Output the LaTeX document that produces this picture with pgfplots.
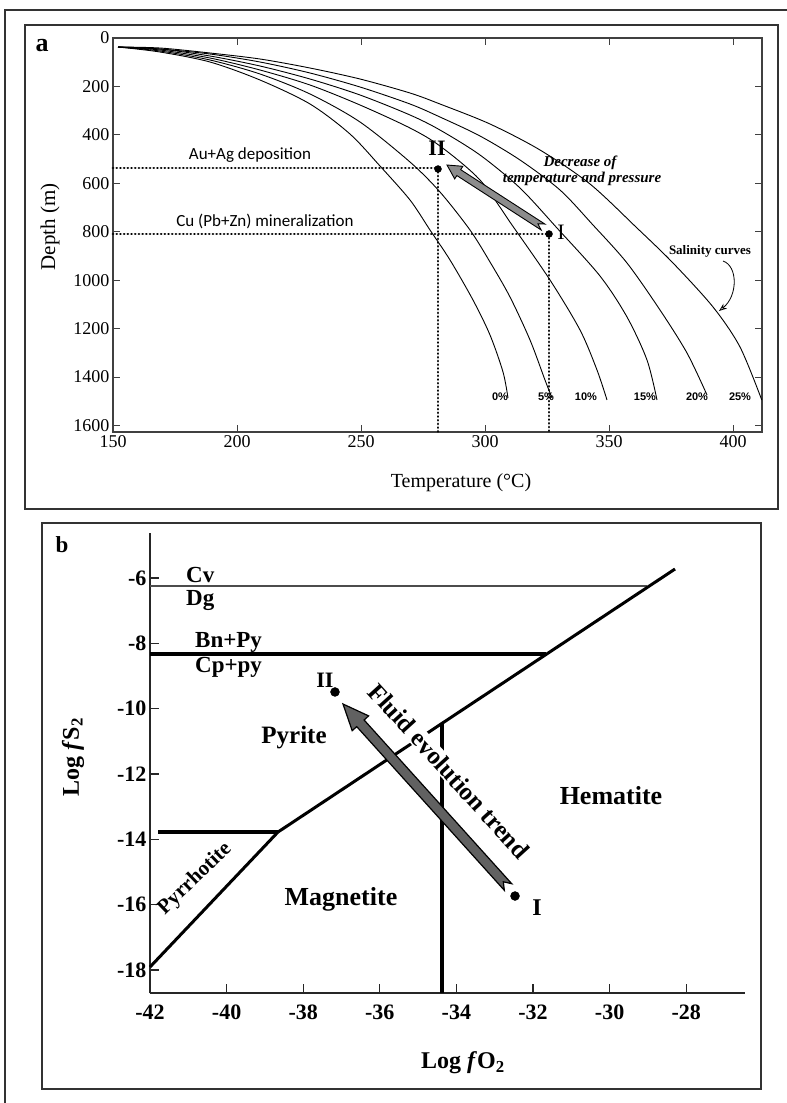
\documentclass[border=0pt]{standalone}
\usepackage{fontspec}
\setmainfont{Liberation Serif}
\newfontfamily\calibri{Carlito}
\newfontfamily\arialf{Liberation Sans}
\usepackage{pgfplots}
\pgfplotsset{compat=1.18}
\usetikzlibrary{arrows.meta}
\newcommand{\fs}[1]{\fontsize{#1}{#1}\selectfont}
\begin{document}
\begin{tikzpicture}
\useasboundingbox (0pt,0pt) rectangle (787pt,-1103pt);
\fill[white] (0pt,0pt) rectangle (787pt,-1103pt);
\draw[line width=2pt, black!80] (5pt,-1103pt) -- (5pt,-10pt) -- (787pt,-10pt);
\draw[line width=1.3pt, black!80] (25pt,-25pt) rectangle (778pt,-509pt);
\draw[line width=1.3pt, black!80] (42pt,-523pt) rectangle (761pt,-1089pt);

% ---------------- Panel a ----------------
\begin{axis}[at={(113pt,-432pt)}, anchor=south west, scale only axis,
  width=649pt, height=394pt,
  xmin=150, xmax=411.69, ymin=0, ymax=1626.8, y dir=reverse,
  xtick={150,200,250,300,350,400}, ytick={0,200,...,1600},
  tick align=inside, major tick length=7pt,
  axis line style={line width=1.3pt, black!75},
  tick style={line width=1pt, black!75},
  ticklabel style={font=\fs{18}},
  /pgf/number format/assume math mode=true,
  /pgf/number format/set thousands separator={},
  clip=false]
% salinity curves
\addplot[black, line width=0.9pt, smooth, tension=0.5] coordinates {
(152.02,37.2) (168.95,57.8) (189.11,99.1) (209.27,173.4) (229.44,272.5) (245.56,396.4)
(257.66,528.5) (269.76,668.9) (277.82,792.7) (285.89,916.6) (295.16,1081.8) (302.02,1226.3)
(307.26,1379.0) (309.27,1486.4)};
\addplot[black, line width=0.9pt, smooth, tension=0.5] coordinates {
(152.02,37.2) (168.95,53.7) (189.11,90.8) (209.27,148.6) (229.44,231.2) (249.60,346.8)
(269.76,512.0) (281.85,635.8) (293.95,792.7) (302.02,924.9) (310.08,1069.4) (318.15,1246.9)
(324.19,1412.1) (327.02,1486.4)};
\addplot[black, line width=0.9pt, smooth, tension=0.5] coordinates {
(152.02,37.2) (168.95,49.5) (189.11,82.6) (209.27,132.1) (229.44,194.1) (249.60,276.6)
(269.76,371.6) (281.85,445.9) (297.98,586.3) (310.89,772.1) (326.21,999.2) (338.31,1205.6)
(345.16,1370.8) (349.19,1494.6)};
\addplot[black, line width=0.9pt, smooth, tension=0.5] coordinates {
(152.02,37.2) (168.95,45.4) (189.11,74.3) (209.27,115.6) (229.44,169.3) (249.60,235.3)
(269.76,317.9) (281.85,379.9) (297.98,483.1) (314.11,619.3) (329.03,784.5) (346.37,982.7)
(357.26,1151.9) (365.32,1329.5) (369.35,1494.6)};
\addplot[black, line width=0.9pt, smooth, tension=0.5] coordinates {
(152.02,37.2) (168.95,45.4) (189.11,66.1) (209.27,99.1) (229.44,144.5) (249.60,202.3)
(269.76,272.5) (281.85,326.2) (297.98,404.6) (314.11,503.7) (330.24,627.6) (343.55,772.1)
(357.26,929.0) (370.56,1123.0) (381.45,1300.6) (389.52,1474.0)};
\addplot[black, line width=0.9pt, smooth, tension=0.5] coordinates {
(152.02,37.2) (168.95,41.3) (189.11,61.9) (209.27,86.7) (229.44,123.9) (249.60,169.3)
(269.76,227.1) (281.85,272.5) (302.02,355.1) (322.18,462.4) (342.34,602.8) (361.29,784.5)
(375.81,929.0) (391.94,1110.6) (402.82,1275.8) (411.6,1494.6)};
% dotted guide lines
\addplot[black, line width=2.8pt, line cap=round, dash pattern=on 0.1pt off 3.6pt] coordinates {(150,536.7) (281.05,536.7) (281.05,1626.8)};
\addplot[black, line width=2.8pt, line cap=round, dash pattern=on 0.1pt off 3.6pt] coordinates {(150,809.2) (325.81,809.2) (325.81,1626.8)};
% arrow
\addplot[draw=black, line width=0.9pt, fill=black!45] coordinates {
(324.15,768.2) (290.19,543.6) (291.06,529.7) (284.68,524.4) (287.78,581.7) (288.65,567.9)
(322.62,792.5) (321.35,766.9)} -- cycle;
% points
\addplot[only marks, mark=*, mark size=3.5pt, black] coordinates {(281.05,540.9) (325.81,809.2)};
\end{axis}

\node[font=\bfseries\fs{26}] at (42pt,-46pt) {a};
\node[rotate=90, font=\fs{21}] at (50pt,-227pt) {Depth (m)};
\node[font=\fs{20}] at (461pt,-483pt) {Temperature (\textdegree C)};
\node[font=\calibri\fs{17}] at (250pt,-155pt) {Au+Ag deposition};
\node[font=\calibri\fs{17}] at (265pt,-221pt) {Cu (Pb+Zn) mineralization};
\node[font=\bfseries\fs{22}] at (437pt,-148pt) {II};
\node[font=\fs{22}] at (561pt,-232pt) {I};
\node[font=\bfseries\itshape\fs{15}] at (580pt,-163pt) {Decrease of};
\node[font=\bfseries\itshape\fs{15}] at (582pt,-179pt) {temperature and pressure};
\node[font=\bfseries\fs{13}] at (710pt,-251pt) {Salinity curves};
\draw[line width=0.8pt, -{Stealth[open, length=8pt, width=6pt]}] (723pt,-261pt) .. controls (738pt,-266pt) and (738pt,-296pt) .. (719pt,-311pt);
\foreach \xx/\tt in {500/0, 546/5, 586/10, 645/15, 697/20, 740/25} {
  \node[font=\arialf\bfseries\fs{11}] at (\xx pt,-397pt) {\tt\%};
}

% ---------------- Panel b ----------------
\begin{axis}[at={(150pt,-993pt)}, anchor=south west, scale only axis,
  width=595pt, height=460pt,
  xmin=-42, xmax=-26.465, ymin=-18.703, ymax=-4.623,
  axis x line=bottom, axis y line=left,
  axis line style={-, line width=1.4pt, black!85},
  xtick={-42,-40,-38,-36,-34,-32,-30,-28}, ytick={-18,-16,-14,-12,-10,-8,-6},
  tick align=inside, major tick length=9pt,
  tick style={line width=1.2pt, black!85},
  ticklabel style={font=\bfseries\fs{22}},
  xticklabel style={yshift=-8pt},
  /pgf/number format/assume math mode=true,
  clip=false]
\addplot[black!70, line width=1.5pt] coordinates {(-42,-6.245) (-29.02,-6.245)};
\addplot[black, line width=4pt] coordinates {(-42,-8.326) (-31.66,-8.326)};
\addplot[black, line width=3pt] coordinates {(-38.658,-13.775) (-28.292,-5.725)};
\addplot[black, line width=3pt] coordinates {(-42,-17.907) (-38.658,-13.775)};
\addplot[black, line width=4pt] coordinates {(-41.79,-13.775) (-38.658,-13.775)};
\addplot[black, line width=3.5pt] coordinates {(-34.376,-10.469) (-34.376,-18.703)};
\end{axis}

\node[font=\bfseries\fs{23}] at (62pt,-545pt) {b};
\node[font=\bfseries\fs{23}, anchor=base west, inner sep=0pt] at (186pt,-582pt) {Cv};
\node[font=\bfseries\fs{23}, anchor=base west, inner sep=0pt] at (186pt,-605pt) {Dg};
\node[font=\bfseries\fs{23}, anchor=base west, inner sep=0pt] at (195pt,-647pt) {Bn+Py};
\node[font=\bfseries\fs{23}, anchor=base west, inner sep=0pt] at (195pt,-672pt) {Cp+py};
\node[font=\bfseries\fs{22}, anchor=base, inner sep=0pt] at (325pt,-687pt) {II};
\node[font=\bfseries\fs{25}] at (294pt,-738pt) {Pyrite};
\node[font=\bfseries\fs{26}] at (611pt,-796pt) {Hematite};
\node[font=\bfseries\fs{26}] at (341pt,-899pt) {Magnetite};
\node[font=\bfseries\fs{24}, anchor=base, inner sep=0pt] at (537pt,-915pt) {I};
\node[font=\bfseries\fs{21}, rotate=44] at (195pt,-879pt) {Pyrrhotite};
\node[font=\bfseries\fs{25}, rotate=-47.8, fill=white, inner sep=1pt] at (449pt,-771pt) {Fluid evolution trend};
\node[font=\bfseries\fs{24}, rotate=90] at (73pt,-757pt) {Log \textit{f}S\textsubscript{2}};
\node[font=\bfseries\fs{24}] at (463pt,-1063pt) {Log \textit{f}O\textsubscript{2}};

% arrow and points of panel b drawn on top (overlay axis with same geometry)
\begin{axis}[at={(150pt,-993pt)}, anchor=south west, scale only axis,
  width=595pt, height=460pt,
  xmin=-42, xmax=-26.465, ymin=-18.703, ymax=-4.623,
  hide axis, clip=false]
\addplot[draw=black, line width=1.2pt, fill=black!62] coordinates {
(-32.556,-15.357) (-36.410,-10.346) (-36.292,-10.221) (-36.961,-9.857) (-36.721,-10.674)
(-36.603,-10.549) (-32.749,-15.559) (-32.775,-15.299)} -- cycle;
\addplot[only marks, mark=*, mark size=4.5pt, black] coordinates {(-37.170,-9.489) (-32.470,-15.734)};
\end{axis}
\end{tikzpicture}
\end{document}
